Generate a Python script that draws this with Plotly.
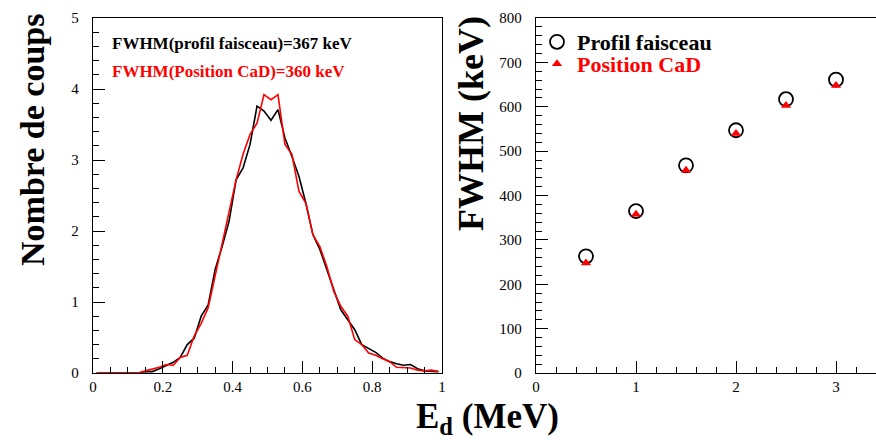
import plotly.graph_objects as go

# Left panel: histogram (bin centers, counts)
bin_centers = [round(0.01 + 0.02 * i, 2) for i in range(50)]
profil_counts = [0.0, 0.0, 0.0, 0.0, 0.0, 0.0, 0.0, 0.02, 0.02, 0.06,
                 0.10, 0.15, 0.22, 0.40, 0.49, 0.80, 0.96, 1.46, 1.78, 2.14,
                 2.72, 2.89, 3.22, 3.76, 3.69, 3.56, 3.71, 3.31, 3.05, 2.77,
                 2.39, 1.95, 1.74, 1.46, 1.17, 0.89, 0.75, 0.61, 0.40, 0.35,
                 0.29, 0.21, 0.16, 0.13, 0.11, 0.12, 0.06, 0.03, 0.02, 0.02]
cad_counts = [0.0, 0.0, 0.0, 0.0, 0.0, 0.0, 0.0, 0.03, 0.05, 0.08,
              0.12, 0.11, 0.22, 0.25, 0.52, 0.70, 0.92, 1.36, 1.83, 2.25,
              2.72, 3.08, 3.36, 3.52, 3.92, 3.85, 3.92, 3.22, 3.08, 2.56,
              2.39, 1.95, 1.78, 1.50, 1.15, 0.94, 0.80, 0.47, 0.40, 0.28,
              0.25, 0.20, 0.16, 0.08, 0.08, 0.07, 0.04, 0.03, 0.04, 0.02]

# Right panel: FWHM vs deuteron energy
energies = [0.5, 1.0, 1.5, 2.0, 2.5, 3.0]
fwhm_profil = [263, 365, 468, 547, 617, 661]
fwhm_cad = [248, 358, 457, 540, 603, 648]

left_x_ticks = [0, 0.2, 0.4, 0.6, 0.8, 1]
left_x_labels = ["0", "0.2", "0.4", "0.6", "0.8", "1"]

SERIF = "Liberation Serif"
W, H = 876, 440

fig = go.Figure()

fig.add_trace(go.Scatter(x=bin_centers, y=profil_counts, mode="lines",
                         line=dict(color="black", width=1.6), showlegend=False,
                         xaxis="x", yaxis="y"))
fig.add_trace(go.Scatter(x=bin_centers, y=cad_counts, mode="lines",
                         line=dict(color="red", width=1.6), showlegend=False,
                         xaxis="x", yaxis="y"))

fig.add_trace(go.Scatter(x=energies, y=fwhm_profil, mode="markers",
                         name="Profil faisceau",
                         marker=dict(symbol="circle-open", size=14, color="black",
                                     line=dict(width=1.8, color="black")),
                         xaxis="x2", yaxis="y2", legend="legend"))
fig.add_trace(go.Scatter(x=energies, y=fwhm_cad, mode="markers",
                         name="Position CaD",
                         marker=dict(symbol="triangle-up", size=9, color="red"),
                         xaxis="x2", yaxis="y2", legend="legend2"))

tickfont = dict(family=SERIF, size=15, color="black")
axis_common = dict(showgrid=False, zeroline=False, showline=True, linecolor="black",
                   linewidth=1.3, mirror=True, ticks="inside", tickcolor="black",
                   tickwidth=1.2, ticklen=12, tickfont=tickfont, automargin=False)


def minor(d):
    return dict(dtick=d, ticklen=6, tickcolor="black", ticks="inside", tickwidth=1)


legend_common = dict(xanchor="left", yanchor="middle", bgcolor="rgba(0,0,0,0)",
                     borderwidth=0, itemwidth=30)

fig.update_layout(
    width=W, height=H,
    margin=dict(l=0, r=0, t=0, b=0, pad=0, autoexpand=False),
    paper_bgcolor="white", plot_bgcolor="white",
    xaxis=dict(domain=[93 / W, 442 / W], range=[0, 1], anchor="y",
               tickvals=left_x_ticks, ticktext=left_x_labels,
               minor=minor(0.05), **axis_common),
    yaxis=dict(domain=[1 - 373 / H, 1 - 18 / H], range=[0, 5], anchor="x",
               dtick=1, ticklabelstandoff=10, minor=minor(0.2), **axis_common),
    xaxis2=dict(domain=[536 / W, 1.0], range=[0, 3.4], anchor="y2",
                dtick=1, minor=minor(0.2), **axis_common),
    yaxis2=dict(domain=[1 - 373 / H, 1 - 18 / H], range=[0, 800], anchor="x2",
                dtick=100, ticklabelstandoff=10, minor=minor(20), **axis_common),
    legend=dict(x=537 / W, y=1 - 42 / H,
                font=dict(family=SERIF, size=22, color="black", weight="bold"),
                **legend_common),
    legend2=dict(x=537 / W, y=1 - 64 / H,
                 font=dict(family=SERIF, size=22, color="red", weight="bold"),
                 **legend_common),
    annotations=[
        dict(text="<b>FWHM(profil faisceau)=367 keV</b>", x=110 / W, y=1 - 43 / H,
             xref="paper", yref="paper", xanchor="left", yanchor="middle", showarrow=False,
             font=dict(family=SERIF, size=17, color="black")),
        dict(text="<b>FWHM(Position CaD)=360 keV</b>", x=110 / W, y=1 - 71 / H,
             xref="paper", yref="paper", xanchor="left", yanchor="middle", showarrow=False,
             font=dict(family=SERIF, size=17, color="red")),
        dict(text="<b>Nombre de coups</b>", x=33 / W, y=1 - 140 / H,
             xref="paper", yref="paper", xanchor="center", yanchor="middle", showarrow=False,
             textangle=-90, font=dict(family=SERIF, size=34, color="black")),
        dict(text="<b>FWHM (keV)</b>", x=471 / W, y=1 - 124 / H,
             xref="paper", yref="paper", xanchor="center", yanchor="middle", showarrow=False,
             textangle=-90, font=dict(family=SERIF, size=36, color="black")),
        dict(text="<b>E<sub>d</sub> (MeV)</b>", x=487 / W, y=1 - 418 / H,
             xref="paper", yref="paper", xanchor="center", yanchor="middle", showarrow=False,
             font=dict(family=SERIF, size=35, color="black")),
    ],
)

fig.write_html("out.html", config={"displayModeBar": False},
               post_script="document.body.style.margin='0';")
